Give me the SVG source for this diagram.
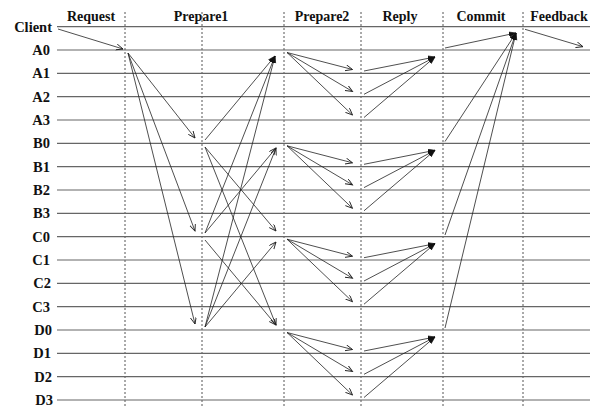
<svg xmlns="http://www.w3.org/2000/svg" width="598" height="407" viewBox="0 0 598 407">
<style>
.row{stroke:#666;stroke-width:1.2;fill:none}
.lbl{font-family:"Liberation Serif","Times New Roman",serif;font-weight:bold;font-size:14.5px;fill:#111;text-anchor:end}
.hdr{font-family:"Liberation Serif","Times New Roman",serif;font-weight:bold;font-size:14px;fill:#111;text-anchor:middle}
.dash{stroke:#555;stroke-width:1;stroke-dasharray:2,2;fill:none}
.c line{stroke:#222;stroke-width:0.8;fill:none;marker-end:url(#ah)}
.c line.f{marker-end:url(#ahf)}
</style>
<defs>
<marker id="ah" markerUnits="userSpaceOnUse" markerWidth="10" markerHeight="10" refX="7" refY="3" orient="auto">
<path d="M0,0 L7,3 L0,6" fill="none" stroke="#222" stroke-width="0.9"/>
</marker>
<marker id="ahf" markerUnits="userSpaceOnUse" markerWidth="10" markerHeight="10" refX="7" refY="3" orient="auto">
<path d="M0,0.5 L7,3 L0,5.5 Z" fill="#111" stroke="#111" stroke-width="0.6"/>
</marker>
</defs>
<rect width="598" height="407" fill="#fff"/>
<g id="headers">
<text class="hdr" x="91" y="21">Request</text>
<text class="hdr" x="201" y="21">Prepare1</text>
<text class="hdr" x="322" y="21">Prepare2</text>
<text class="hdr" x="400" y="21">Reply</text>
<text class="hdr" x="481" y="21">Commit</text>
<text class="hdr" x="559" y="21">Feedback</text>
</g>
<g id="phases">
<line class="dash" x1="125" y1="12" x2="125" y2="407"/>
<line class="dash" x1="202" y1="12" x2="202" y2="407"/>
<line class="dash" x1="284" y1="12" x2="284" y2="407"/>
<line class="dash" x1="361" y1="12" x2="361" y2="407"/>
<line class="dash" x1="443" y1="12" x2="443" y2="407"/>
<line class="dash" x1="523" y1="12" x2="523" y2="407"/>
</g>
<g id="node-Client"><text class="lbl" x="52" y="31.5">Client</text><line class="row" x1="57" y1="26.7" x2="590" y2="26.7"/></g>
<g id="node-A0"><text class="lbl" x="50" y="55">A0</text><line class="row" x1="57" y1="50" x2="590" y2="50"/></g>
<g id="node-A1"><text class="lbl" x="50" y="78.3">A1</text><line class="row" x1="57" y1="73.3" x2="590" y2="73.3"/></g>
<g id="node-A2"><text class="lbl" x="50" y="101.7">A2</text><line class="row" x1="57" y1="96.7" x2="590" y2="96.7"/></g>
<g id="node-A3"><text class="lbl" x="50" y="125">A3</text><line class="row" x1="57" y1="120" x2="590" y2="120"/></g>
<g id="node-B0"><text class="lbl" x="50" y="148.3">B0</text><line class="row" x1="57" y1="143.3" x2="590" y2="143.3"/></g>
<g id="node-B1"><text class="lbl" x="50" y="171.7">B1</text><line class="row" x1="57" y1="166.7" x2="590" y2="166.7"/></g>
<g id="node-B2"><text class="lbl" x="50" y="195">B2</text><line class="row" x1="57" y1="190" x2="590" y2="190"/></g>
<g id="node-B3"><text class="lbl" x="50" y="218.3">B3</text><line class="row" x1="57" y1="213.3" x2="590" y2="213.3"/></g>
<g id="node-C0"><text class="lbl" x="50" y="241.7">C0</text><line class="row" x1="57" y1="236.7" x2="590" y2="236.7"/></g>
<g id="node-C1"><text class="lbl" x="50" y="265">C1</text><line class="row" x1="57" y1="260" x2="590" y2="260"/></g>
<g id="node-C2"><text class="lbl" x="51" y="288.3">C2</text><line class="row" x1="57" y1="283.3" x2="590" y2="283.3"/></g>
<g id="node-C3"><text class="lbl" x="50" y="311.7">C3</text><line class="row" x1="57" y1="306.7" x2="590" y2="306.7"/></g>
<g id="node-D0"><text class="lbl" x="52" y="335">D0</text><line class="row" x1="57" y1="330" x2="590" y2="330"/></g>
<g id="node-D1"><text class="lbl" x="51" y="358.3">D1</text><line class="row" x1="57" y1="353.3" x2="590" y2="353.3"/></g>
<g id="node-D2"><text class="lbl" x="52" y="381.7">D2</text><line class="row" x1="57" y1="376.7" x2="590" y2="376.7"/></g>
<g id="node-D3"><text class="lbl" x="53" y="405">D3</text><line class="row" x1="57" y1="400" x2="590" y2="400"/></g>
<g id="connectors" class="c">
<!-- request -->
<line x1="58" y1="29" x2="123" y2="49"/>
<line x1="128" y1="53" x2="195" y2="138"/>
<line x1="128" y1="53" x2="195" y2="231"/>
<line x1="128" y1="53" x2="195" y2="324"/>
<!-- prepare1 -->
<line class="f" x1="205" y1="140" x2="275" y2="56"/>
<line x1="205" y1="147" x2="276" y2="231"/>
<line x1="205" y1="147" x2="276" y2="325"/>
<line class="f" x1="205" y1="233" x2="275" y2="56"/>
<line x1="205" y1="233" x2="276" y2="148"/>
<line x1="205" y1="240" x2="276" y2="325"/>
<line class="f" x1="205" y1="327" x2="275" y2="56"/>
<line x1="205" y1="327" x2="276" y2="148"/>
<line x1="205" y1="327" x2="276" y2="242"/>
<!-- prepare2 -->
<line x1="287" y1="52.5" x2="352.5" y2="69.5"/>
<line x1="287" y1="52.5" x2="352.5" y2="91.5"/>
<line x1="287" y1="52.5" x2="352.5" y2="115"/>
<line x1="287" y1="145.8" x2="352.5" y2="162.8"/>
<line x1="287" y1="145.8" x2="352.5" y2="184.8"/>
<line x1="287" y1="145.8" x2="352.5" y2="208.3"/>
<line x1="287" y1="239.2" x2="352.5" y2="256.2"/>
<line x1="287" y1="239.2" x2="352.5" y2="278.2"/>
<line x1="287" y1="239.2" x2="352.5" y2="301.7"/>
<line x1="287" y1="332.5" x2="352.5" y2="349.5"/>
<line x1="287" y1="332.5" x2="352.5" y2="371.5"/>
<line x1="287" y1="332.5" x2="352.5" y2="395"/>
<!-- reply -->
<line class="f" x1="364" y1="71" x2="435" y2="57"/>
<line class="f" x1="364" y1="94.3" x2="435" y2="57"/>
<line class="f" x1="364" y1="117.5" x2="435" y2="57"/>
<line class="f" x1="364" y1="164.3" x2="435" y2="150.3"/>
<line class="f" x1="364" y1="187.6" x2="435" y2="150.3"/>
<line class="f" x1="364" y1="210.8" x2="435" y2="150.3"/>
<line class="f" x1="364" y1="257.7" x2="435" y2="243.7"/>
<line class="f" x1="364" y1="281" x2="435" y2="243.7"/>
<line class="f" x1="364" y1="304.2" x2="435" y2="243.7"/>
<line class="f" x1="364" y1="351" x2="435" y2="337"/>
<line class="f" x1="364" y1="374.3" x2="435" y2="337"/>
<line class="f" x1="364" y1="397.5" x2="435" y2="337"/>
<!-- commit -->
<line class="f" x1="445" y1="48" x2="516" y2="33"/>
<line class="f" x1="445" y1="141.5" x2="516" y2="33"/>
<line class="f" x1="445" y1="235" x2="516" y2="33"/>
<line class="f" x1="445" y1="328" x2="516" y2="33"/>
<!-- feedback -->
<line x1="525" y1="29.3" x2="583" y2="46.7"/>
</g>
</svg>
